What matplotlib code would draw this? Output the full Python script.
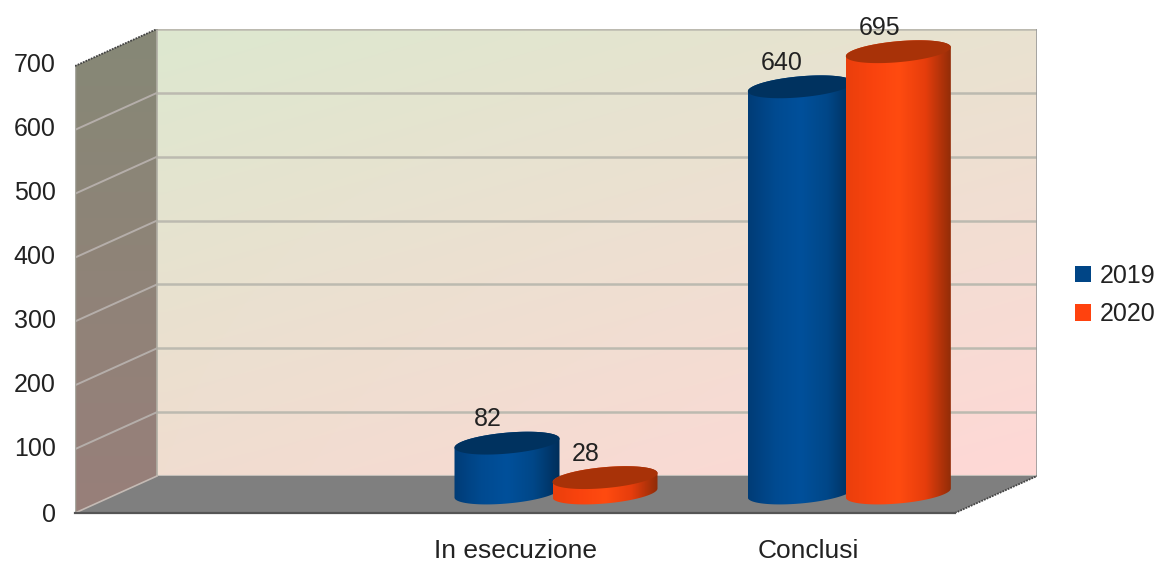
import numpy as np
import matplotlib
matplotlib.use("Agg")
import matplotlib.pyplot as plt
from matplotlib.colors import LinearSegmentedColormap
from matplotlib.patches import Polygon, Patch
from matplotlib.transforms import Bbox, ScaledTranslation

categories = ["", "In esecuzione", "Conclusi"]
values_2019 = [np.nan, 82, 640]
values_2020 = [np.nan, 28, 695]
series_names = ["2019", "2020"]
y_ticks = [0, 100, 200, 300, 400, 500, 600, 700]

W, H = 1159, 561
plt.rcParams["font.family"] = ["Liberation Sans", "DejaVu Sans"]
TXT = "#222222"
FS = 18
FS_CAT = 19

# 3d look: depth offset of the back wall, in data units
dx = 82 / 880 * 3
dy = 37 / 447 * 700
ymax = 700 + dy
px_y = 700 / 447

fig = plt.figure(figsize=(W / 100, H / 100), dpi=100)
ax = fig.add_axes([75 / W, 1 - 513 / H, (1037 - 75) / W, (513 - 29) / H])


def shade(colors, extent, clip=None, z=1):
    cm = LinearSegmentedColormap.from_list("c", colors)
    g = np.linspace(0, 1, 256).reshape(1, -1)
    im = ax.imshow(g, cmap=cm, extent=extent, aspect="auto", zorder=z, interpolation="bilinear")
    if clip is not None:
        p = Polygon(clip, closed=True, transform=ax.transData, fc="none", ec="none")
        ax.add_patch(p)
        im.set_clip_path(p)
    return im


# back wall, four corner colours
c_tl = np.array([221, 232, 207]) / 255
c_tr = np.array([233, 226, 208]) / 255
c_bl = np.array([240, 221, 208]) / 255
c_br = np.array([255, 216, 214]) / 255
u = np.linspace(0, 1, 64).reshape(1, -1, 1)
v = np.linspace(0, 1, 64).reshape(-1, 1, 1)
wall = (1 - v) * ((1 - u) * c_tl + u * c_tr) + v * ((1 - u) * c_bl + u * c_br)
ax.imshow(wall, extent=(dx, 3 + dx, dy, ymax), aspect="auto", zorder=1, interpolation="bilinear")

# side wall
side = [(0, 0), (dx, dy), (dx, ymax), (0, 700)]
side_rgb = np.linspace([134, 136, 118], [152, 127, 122], 64).reshape(-1, 1, 3) / 255
im = ax.imshow(side_rgb, extent=(0, dx, 0, ymax), aspect="auto", zorder=1, interpolation="bilinear")
p = Polygon(side, closed=True, transform=ax.transData, fc="none", ec="none")
ax.add_patch(p)
im.set_clip_path(p)

# floor
ax.add_patch(Polygon([(0, 0), (3, 0), (3 + dx, dy), (dx, dy)], closed=True, fc="#7f7f7f", ec="none", zorder=2))

# grid lines on both walls
for t in y_ticks[1:]:
    ax.plot([dx, 3 + dx], [t + dy, t + dy], color="#bcbab0", lw=1.8, zorder=1.5)
    if t < 700:
        ax.plot([0, dx], [t, t + dy], color="#b5aeaa", lw=1.4, zorder=1.5)
ax.plot([dx, 3 + dx], [dy, dy], color="#c4c0ba", lw=1.5, zorder=1.5)
ax.plot([dx, dx], [dy, ymax], color="#b0aea4", lw=1.2, zorder=1.6)
ax.plot([3 + dx, 3 + dx], [dy, ymax], color="#999999", lw=1.2, zorder=1.6)
ax.plot([0, dx], [0, dy], color="#c4bab4", lw=1.2, zorder=2.1)
ax.plot([0, 0], [0, 700], color="#a8a8a0", lw=1, zorder=2.1)
# dark rough edges
ax.plot([0, dx], [700, ymax], color="#444444", lw=1.3, ls=(0, (1, 0.6)), zorder=2.2)
ax.plot([3, 3 + dx], [0, dy], color="#444444", lw=1.3, ls=(0, (1, 0.6)), zorder=2.2)
ax.plot([0, 3], [0, 0], color="#555555", lw=1.6, zorder=2.2, clip_on=False)

# cylinders
bar_w = 105 / 880 * 3
off = 49 / 880 * 3
b_semi = 10.5 * px_y
tilt = 4.5 * px_y
t_up = np.linspace(0, np.pi, 60)
t_dn = np.linspace(np.pi, 2 * np.pi, 60)


def arc(cx, cy, t):
    a = bar_w / 2
    return np.column_stack([cx + a * np.cos(t), cy + b_semi * np.sin(t) + tilt * np.cos(t)])


def cylinder(cx, val, body, cap, z):
    cy0 = dy / 2 + 1.5 * px_y
    cy1 = dy / 2 + val - 1 * px_y
    top = arc(cx, cy1, t_up)
    low = arc(cx, cy0, t_dn)
    shape = np.vstack([top, low])
    x0, x1 = cx - bar_w / 2, cx + bar_w / 2
    shade(body, (x0, x1, cy0 - 40, cy1 + 40), clip=shape, z=z)
    whole = np.vstack([arc(cx, cy1, t_up), arc(cx, cy1, t_dn)])
    ax.add_patch(Polygon(whole, closed=True, fc=cap, ec="none", zorder=z + 0.1))


blue_body = ["#003c76", "#004a90", "#00509b", "#004788", "#002e5a"]
orange_body = ["#ea3f0c", "#f9430e", "#ff4b10", "#e63d0c", "#8f2c08"]
series = [
    (values_2019, -off, blue_body, "#00325f", "#004586"),
    (values_2020, off, orange_body, "#a83208", "#ff420e"),
]

z = 3
for i in range(len(categories)):
    for vals, shift, body, cap, _ in series:
        if np.isnan(vals[i]):
            continue
        cx = i + 0.5 + dx / 2 + shift
        cylinder(cx, vals[i], body, cap, z)
        lab = ax.annotate(str(vals[i]), (cx, dy / 2 + vals[i]), xytext=(-19 * 0.72, 23 * 0.72),
                          textcoords="offset points", ha="center", va="center",
                          fontsize=FS, color=TXT, zorder=20, annotation_clip=False)
        # the tallest label is cut off by the top of the chart image
        lab.set_clip_box(Bbox([[0, 0], [W, H - 17]]))
        lab.set_clip_on(True)
        z += 1

ax.set_xlim(0, 3 + dx)
ax.set_ylim(0, ymax)
ax.set_xticks([i + 0.5 for i in range(len(categories))])
ax.set_xticklabels(categories)
ax.set_yticks(y_ticks)
ax.set_yticklabels([str(t) for t in y_ticks])
ax.tick_params(axis="x", length=0, pad=19, labelsize=FS_CAT, labelcolor=TXT)
ax.tick_params(axis="y", length=0, pad=14, labelsize=FS, labelcolor=TXT)
# labels above 0 sit a little higher than their grid line
for lab in ax.get_yticklabels()[1:]:
    lab.set_transform(lab.get_transform() + ScaledTranslation(0, 3 / 100, fig.dpi_scale_trans))
for s in ax.spines.values():
    s.set_visible(False)
ax.patch.set_visible(False)

handles = [Patch(fc=c[4], ec="none", label=n) for c, n in zip(series, series_names)]
ax.legend(handles=handles, loc="center left", bbox_to_anchor=(1075 / W, 1 - 295 / H),
          bbox_transform=fig.transFigure, frameon=False, fontsize=FS,
          handlelength=0.62, handleheight=0.62, handletextpad=0.36, labelspacing=0.58,
          borderpad=0, borderaxespad=0, labelcolor=TXT)

fig.savefig("out.png", dpi=100, facecolor="white")
